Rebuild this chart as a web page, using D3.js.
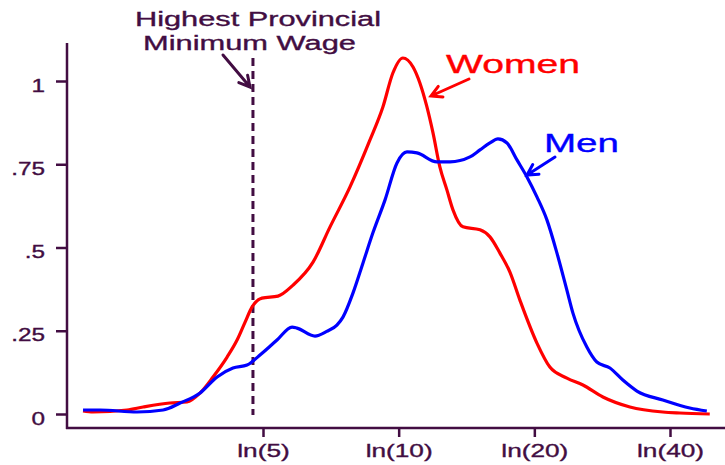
<!DOCTYPE html>
<meta charset="utf-8">
<style type="text/css">

body {
  margin: 0;
  background: #fff;
}

svg {
  font-family: "Liberation Sans", Arial, Helvetica, sans-serif;
}

.curve {
  fill: none;
  stroke-width: 3.2px;
  stroke-linejoin: round;
}

</style>
<body>

<div id="svgContainer"></div>

<script src="https://cdnjs.cloudflare.com/ajax/libs/d3/7.8.5/d3.min.js"></script>
<script>
var width = 725,
    height = 465;

var ink = '#420d42';

// log hourly wage
var womenLnWage = [0.690, 0.741, 0.915, 0.997, 1.134, 1.221, 1.288, 1.354, 1.426, 1.477,
  1.518, 1.553, 1.604, 1.686, 1.763, 1.865, 1.952, 2.054, 2.156, 2.222, 2.273, 2.324,
  2.376, 2.411, 2.447, 2.478, 2.513, 2.549, 2.580, 2.631, 2.718, 2.769, 2.820, 2.871,
  2.922, 3.009, 3.075, 3.162, 3.244, 3.346, 3.484, 3.652, 3.739, 3.892];
var womenDensity = [0.009, 0.006, 0.012, 0.021, 0.033, 0.036, 0.063, 0.111, 0.171, 0.222,
  0.276, 0.321, 0.348, 0.354, 0.387, 0.456, 0.562, 0.682, 0.823, 0.922, 1.024, 1.069,
  1.042, 0.994, 0.922, 0.844, 0.742, 0.673, 0.613, 0.562, 0.553, 0.532, 0.483, 0.426,
  0.342, 0.213, 0.141, 0.108, 0.087, 0.051, 0.021, 0.006, 0.003, 0.000];

var menLnWage = [0.690, 0.777, 0.966, 1.099, 1.186, 1.288, 1.375, 1.456, 1.528, 1.558,
  1.594, 1.681, 1.758, 1.783, 1.875, 1.935, 1.987, 2.018, 2.069, 2.120, 2.171, 2.233,
  2.294, 2.345, 2.396, 2.498, 2.565, 2.667, 2.718, 2.769, 2.810, 2.856, 2.907, 2.958,
  3.009, 3.060, 3.111, 3.162, 3.193, 3.264, 3.315, 3.382, 3.448, 3.520, 3.652, 3.790, 3.877];
var menDensity = [0.012, 0.012, 0.006, 0.012, 0.033, 0.063, 0.111, 0.138, 0.147, 0.159,
  0.177, 0.222, 0.261, 0.258, 0.234, 0.248, 0.267, 0.291, 0.363, 0.453, 0.544, 0.643,
  0.754, 0.787, 0.784, 0.757, 0.757, 0.772, 0.793, 0.814, 0.826, 0.814, 0.763, 0.712,
  0.652, 0.583, 0.484, 0.372, 0.303, 0.201, 0.156, 0.138, 0.102, 0.069, 0.042, 0.018, 0.009];

var xTickWages = [5, 10, 20, 40];
var xTickLabels = ['ln(5)', 'ln(10)', 'ln(20)', 'ln(40)'];
var yTickValues = [0, 0.25, 0.5, 0.75, 1];
var yTickLabels = ['0', '.25', '.5', '.75', '1'];

var minWage = 4.75;

var svg = d3.select('#svgContainer').append('svg')
  .attr('width', width)
  .attr('height', height);

var x = d3.scaleLinear()
  .domain([Math.log(5), Math.log(40)])
  .range([263, 670]);

var y = d3.scaleLinear()
  .domain([0, 1])
  .range([414, 81]);

var axisX = 67,
    axisY = 428;

// y axis
var yAxis = svg.append('g')
  .attr('transform', 'translate(' + axisX + ',0)')
  .call(d3.axisLeft(y)
    .tickValues(yTickValues)
    .tickSize(11)
    .tickFormat(function(d, i) { return yTickLabels[i]; }));

yAxis.select('.domain').remove();
yAxis.selectAll('line').attr('stroke', ink).attr('stroke-width', 2.5);
yAxis.selectAll('text')
  .attr('x', 0)
  .attr('dy', 0)
  .attr('fill', ink)
  .attr('stroke', ink)
  .attr('stroke-width', 0.35)
  .attr('font-size', 19)
  .attr('font-family', null)
  .attr('transform', 'translate(-22,10) scale(1.28,1)');

// x axis
var xAxis = svg.append('g')
  .attr('transform', 'translate(0,' + axisY + ')')
  .call(d3.axisBottom(x)
    .tickValues(xTickWages.map(function(w) { return Math.log(w); }))
    .tickSize(9)
    .tickFormat(function(d, i) { return xTickLabels[i]; }));

xAxis.select('.domain').remove();
xAxis.selectAll('line').attr('stroke', ink).attr('stroke-width', 2.5);
xAxis.selectAll('text')
  .attr('y', 0)
  .attr('dy', 0)
  .attr('fill', ink)
  .attr('stroke', ink)
  .attr('stroke-width', 0.35)
  .attr('font-size', 19)
  .attr('font-family', null)
  .attr('transform', 'translate(0,29) scale(1.38,1)');

svg.append('line')
  .attr('x1', axisX).attr('x2', axisX)
  .attr('y1', 43).attr('y2', axisY + 1)
  .attr('stroke', ink).attr('stroke-width', 2.5);

svg.append('line')
  .attr('x1', axisX - 1).attr('x2', width)
  .attr('y1', axisY).attr('y2', axisY)
  .attr('stroke', ink).attr('stroke-width', 2.5);

// minimum wage marker
svg.append('line')
  .attr('x1', x(Math.log(minWage))).attr('x2', x(Math.log(minWage)))
  .attr('y1', 58).attr('y2', 415)
  .attr('stroke', ink)
  .attr('stroke-width', 3)
  .attr('stroke-dasharray', '8,5');

var line = d3.line()
  .x(function(d) { return x(d[0]); })
  .y(function(d) { return y(d[1]); })
  .curve(d3.curveMonotoneX);

svg.append('path')
  .attr('class', 'curve')
  .attr('stroke', '#ff0000')
  .attr('d', line(d3.zip(womenLnWage, womenDensity)));

svg.append('path')
  .attr('class', 'curve')
  .attr('stroke', '#0000ff')
  .attr('d', line(d3.zip(menLnWage, menDensity)));

// annotations
function arrow(x1, y1, x2, y2, color) {
  var a = Math.atan2(y2 - y1, x2 - x1),
      h = 12,
      spread = 0.5;
  svg.append('path')
    .attr('d', 'M' + x1 + ',' + y1 + 'L' + x2 + ',' + y2 +
      'M' + (x2 - h * Math.cos(a - spread)) + ',' + (y2 - h * Math.sin(a - spread)) +
      'L' + x2 + ',' + y2 +
      'L' + (x2 - h * Math.cos(a + spread)) + ',' + (y2 - h * Math.sin(a + spread)))
    .attr('fill', 'none')
    .attr('stroke', color)
    .attr('stroke-width', 3)
    .attr('stroke-linecap', 'round');
}

function label(text, x0, baseline, size, len, color) {
  svg.append('text')
    .attr('x', x0)
    .attr('y', baseline)
    .attr('font-size', size)
    .attr('fill', color)
    .attr('stroke', color)
    .attr('stroke-width', 0.35)
    .attr('textLength', len)
    .attr('lengthAdjust', 'spacingAndGlyphs')
    .text(text);
}

label('Highest Provincial', 135, 26, 20, 246, ink);
label('Minimum Wage', 143, 50, 20, 213, ink);
arrow(223, 55, 250, 87, ink);

label('Women', 446, 73, 25, 134, '#ff0000');
arrow(469, 79, 431, 96, '#ff0000');

label('Men', 544, 152, 26, 75, '#0000ff');
arrow(555, 157, 527, 175, '#0000ff');
</script>
